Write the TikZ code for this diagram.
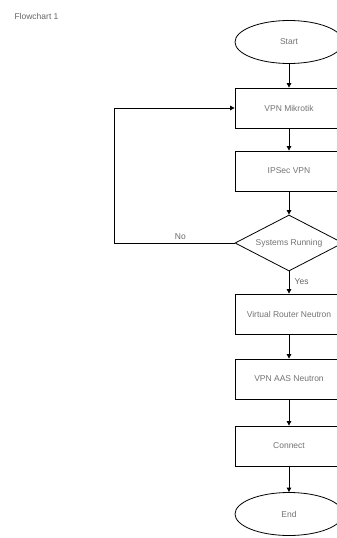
\documentclass[tikz,border=0pt]{standalone}
\usepackage{fontspec}
\setmainfont{Liberation Sans}
\usetikzlibrary{shapes.geometric,arrows.meta}
\begin{document}
\begin{tikzpicture}[x=1pt,y=-1pt,
  every node/.style={font=\fontsize{8.5}{10}\selectfont, text=black!55},
  procbox/.style={draw=black, line width=0.8pt, minimum width=108pt, minimum height=40pt, inner sep=0pt},
  term/.style={draw=black, line width=0.8pt, ellipse, minimum width=108pt, minimum height=43pt, inner sep=0pt},
  decision/.style={draw=black, line width=0.8pt, diamond, aspect=1.93, minimum width=108pt, minimum height=56pt, inner sep=0pt},
  flow/.style={draw=black, line width=0.8pt, -{Triangle[length=4.5pt,width=4.5pt]}},
  lbl/.style={font=\fontsize{8.5}{10}\selectfont, text=black!60}]
\useasboundingbox (0,0) rectangle (337,538);
\fill[white] (0,0) rectangle (337,538);
\node[anchor=west, lbl] (title) at (11,16) {Flowchart 1};
\node[term] (start) at (289,42) {Start};
\node[procbox] (mik) at (289,108) {VPN Mikrotik};
\node[procbox] (ipsec) at (289,171) {IPSec VPN};
\node[decision] (dec) at (289,243) {Systems Running};
\node[procbox] (vr) at (289,314) {Virtual Router Neutron};
\node[procbox] (aas) at (289,379) {VPN AAS Neutron};
\node[procbox] (conn) at (289,446) {Connect};
\node[term] (end) at (289,514) {End};
\coordinate (nl) at (114,243);
\coordinate (nu) at (114,108);
\draw[flow] (start) -- (mik);
\draw[flow] (mik) -- (ipsec);
\draw[flow] (ipsec) -- (dec);
\draw[flow] (dec) -- node[lbl, anchor=west, pos=0.45, xshift=2pt] (yes) {Yes} (vr);
\draw[flow] (vr) -- (aas);
\draw[flow] (aas) -- (conn);
\draw[flow] (conn) -- (end);
\draw[flow] (dec.west) -- node[lbl, above, pos=0.45] (no) {No} (nl) -- (nu) -- (mik.west);
\end{tikzpicture}
\end{document}
